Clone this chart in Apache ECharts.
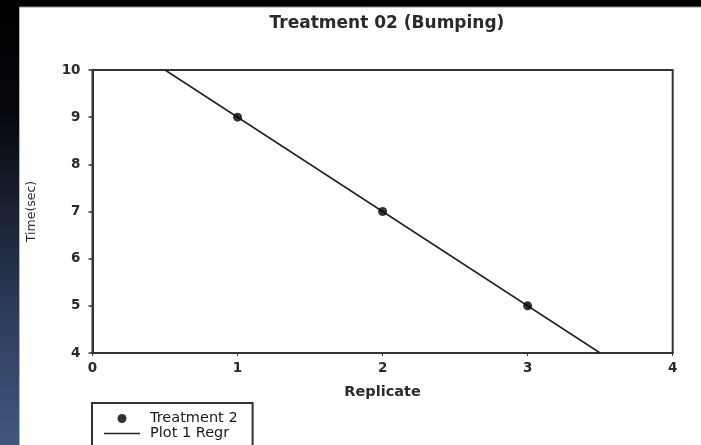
<!DOCTYPE html>
<html>
<head>
<meta charset="utf-8">
<script src="https://cdn.jsdelivr.net/npm/echarts@6/dist/echarts.min.js"></script>
<style>
html,body{margin:0;padding:0;background:#fff;}
#chart{width:701px;height:445px;}
</style>
</head>
<body>
<div id="chart"></div>
<script>
// Data
const titleText = 'Treatment 02 (Bumping)';
const pointX = [1, 2, 3];
const pointY = [9, 7, 5];
const regrX = [0.5, 3.5];
const regrY = [10, 4];
const xTicks = [0, 1, 2, 3, 4];
const yTicks = [4, 5, 6, 7, 8, 9, 10];
const seriesNames = ['Treatment 2', 'Plot 1 Regr'];

const chart = echarts.init(document.getElementById('chart'), null, {renderer: 'canvas'});
const font = 'DejaVu Sans';
const option = {
  backgroundColor: '#ffffff',
  animation: false,
  graphic: [
    {type: 'rect', left: 0, top: 0, shape: {width: 20, height: 445}, z: -10,
      style: {fill: new echarts.graphic.LinearGradient(0, 0, 0, 1, [
        {offset: 0, color: '#000000'},
        {offset: 0.25, color: '#05070c'},
        {offset: 0.5, color: '#1c2538'},
        {offset: 0.75, color: '#2f4163'},
        {offset: 1, color: '#41577e'}
      ])}},
    {type: 'rect', left: 0, top: 0, shape: {width: 701, height: 7}, z: -9, style: {fill: '#000'}},
    {type: 'line', shape: {x1: 20, y1: 7, x2: 701, y2: 7}, z: -8, style: {stroke: '#8a8a8a', lineWidth: 1}},
    {type: 'line', shape: {x1: 19.5, y1: 7, x2: 19.5, y2: 445}, z: -8, style: {stroke: '#a8b4c8', lineWidth: 1}}
  ],
  title: {
    text: titleText,
    left: 382, top: 10, textAlign: 'center',
    textStyle: {fontFamily: font, fontSize: 17, fontWeight: 'bold', color: '#2a2a2a'}
  },
  grid: {left: 92.5, right: 28.3, top: 70, bottom: 92, show: true, borderColor: '#333', borderWidth: 2, backgroundColor: 'transparent'},
  legend: {
    orient: 'vertical', left: 92, top: 403, height: 90,
    borderColor: '#333', borderWidth: 2,
    padding: [8, 15, 40, 12],
    itemWidth: 36, itemHeight: 9, itemGap: 0,
    symbolKeepAspect: true,
    textStyle: {fontFamily: font, fontSize: 14.5, lineHeight: 14, color: '#1a1a1a', padding: [0, 0, 0, 5]},
    data: [
      {name: seriesNames[0], icon: 'circle', itemStyle: {color: '#000'}},
      {name: seriesNames[1], icon: 'path://M0,0 L36,0 L36,1.5 L0,1.5 Z', itemStyle: {color: '#222'}}
    ]
  },
  xAxis: {
    type: 'value', min: xTicks[0], max: xTicks[xTicks.length - 1], interval: 1,
    name: 'Replicate', nameLocation: 'middle', nameGap: 32,
    nameTextStyle: {fontFamily: font, fontSize: 14.5, fontWeight: 'bold', color: '#2a2a2a'},
    axisLine: {lineStyle: {color: '#333', width: 2}},
    axisTick: {show: true, inside: false, length: 3, lineStyle: {color: '#333', width: 1}},
    axisLabel: {fontFamily: font, fontSize: 13.5, fontWeight: 'bold', color: '#2a2a2a', margin: 8},
    splitLine: {show: false}
  },
  yAxis: {
    type: 'value', min: yTicks[0], max: yTicks[yTicks.length - 1], interval: 1,
    name: 'Time(sec)', nameLocation: 'middle', nameGap: 54,
    nameTextStyle: {fontFamily: font, fontSize: 12.5, color: '#2a2a2a'},
    axisLine: {lineStyle: {color: '#333', width: 2}},
    axisTick: {show: true, inside: false, length: 4, lineStyle: {color: '#333', width: 1.5}},
    axisLabel: {fontFamily: font, fontSize: 13.5, fontWeight: 'bold', color: '#2a2a2a', margin: 12},
    splitLine: {show: false}
  },
  series: [
    {
      name: seriesNames[0], type: 'scatter',
      data: pointX.map((x, i) => [x, pointY[i]]),
      symbol: 'circle', symbolSize: 9,
      itemStyle: {color: '#000'}, z: 3
    },
    {
      name: seriesNames[1], type: 'line',
      data: regrX.map((x, i) => [x, regrY[i]]),
      symbol: 'none', showSymbol: false,
      itemStyle: {color: '#222'},
      lineStyle: {color: '#222', width: 1.5}, z: 2
    }
  ]
};
chart.setOption(option);
</script>
</body>
</html>
